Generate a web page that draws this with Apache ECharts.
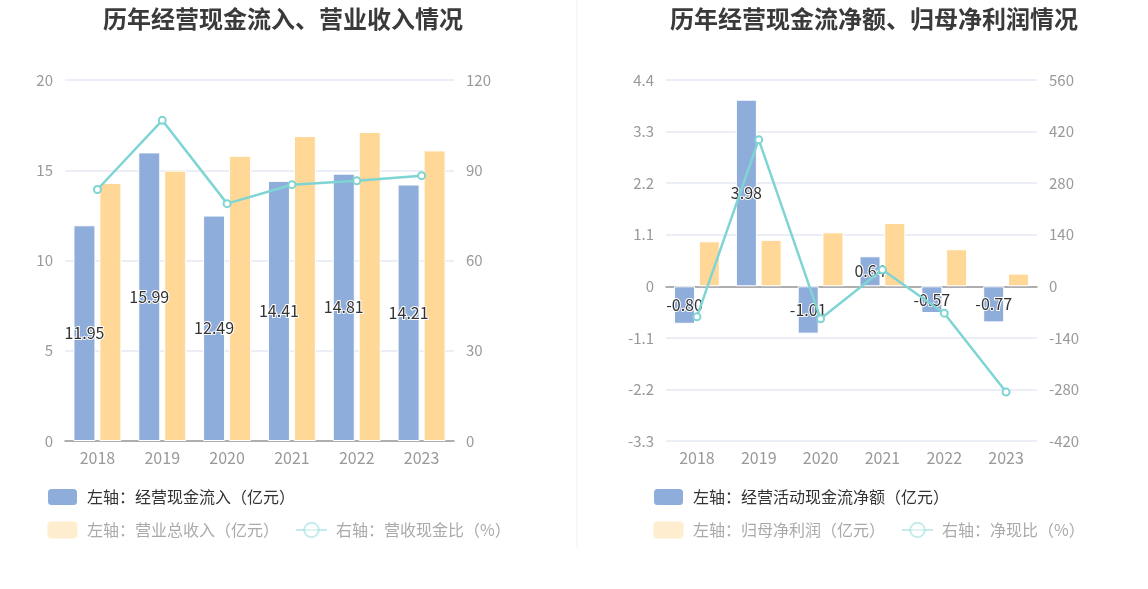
<!DOCTYPE html>
<html>
<head>
<meta charset="utf-8">
<script src="https://cdn.jsdelivr.net/npm/echarts@6/dist/echarts.min.js"></script>
<style>
  html, body { margin: 0; padding: 0; background: #fff; }
  #main { width: 1148px; height: 589px; }
</style>
</head>
<body>
<div id="main"></div>
<script>
// 年份
let years = ['2018', '2019', '2020', '2021', '2022', '2023'];

// 左图：经营现金流入、营业总收入（亿元），营收现金比（%）
let cashIn = [11.95, 15.99, 12.49, 14.41, 14.81, 14.21];
let revenue = [14.3, 14.98, 15.8, 16.9, 17.12, 16.1];
let cashRatio = [83.6, 106.6, 78.9, 85.2, 86.5, 88.2];

// 右图：经营活动现金流净额、归母净利润（亿元），净现比（%）
let netCash = [-0.80, 3.98, -1.01, 0.64, -0.57, -0.77];
let netProfit = [0.96, 0.99, 1.15, 1.35, 0.79, 0.27];
let netRatio = [-83, 398, -88, 45, -73, -287];

let BLUE = '#8eaddb', ORANGE = '#ffd897', CYAN = '#7fd4d4';
let FONT = 'Noto Sans CJK SC';

let chart = echarts.init(document.getElementById('main'));

function yAxisOf(gridIndex, min, max, interval, showSplit) {
  return {
    type: 'value', gridIndex: gridIndex, min: min, max: max, interval: interval,
    axisLine: { show: false }, axisTick: { show: false },
    axisLabel: { color: '#999', fontSize: 15, fontFamily: FONT, margin: 12 },
    splitLine: { show: showSplit, lineStyle: { color: '#e6e9f4', width: 1.5 } }
  };
}

function xAxesOf(gridIndex) {
  return [{
    // 轴线和刻度，贴着 0 线
    type: 'category', gridIndex: gridIndex, data: years,
    axisLine: { onZero: true, lineStyle: { color: '#999', width: 1.5 } },
    axisTick: { alignWithLabel: true, length: 5, lineStyle: { color: '#999' } },
    axisLabel: { show: false }
  }, {
    // 年份标签放到底部
    type: 'category', gridIndex: gridIndex, data: years, position: 'bottom',
    axisLine: { show: false, onZero: false }, axisTick: { show: false },
    axisLabel: { color: '#999', fontSize: 16, fontFamily: FONT, margin: 9 }
  }];
}

let barLabel = {
  show: true, position: 'inside', color: '#333', fontSize: 16, fontFamily: FONT,
  textBorderColor: '#fff', textBorderWidth: 2,
  formatter: function (p) { return p.value.toFixed(2); }
};

function legendsOf(left, names) {
  return [{
    left: left, top: 487, padding: 0, itemWidth: 31, itemHeight: 18, icon: 'roundRect',
    textStyle: { fontSize: 16, fontFamily: FONT, color: '#333', padding: [0, 0, 0, 4] },
    data: [{ name: names[0] }]
  }, {
    left: left, top: 520, padding: 0, itemWidth: 31, itemHeight: 18, itemGap: 16,
    textStyle: { fontSize: 16, fontFamily: FONT, color: '#aaa', padding: [0, 0, 0, 4] },
    data: [
      { name: names[1], icon: 'roundRect', itemStyle: { opacity: 0.45 } },
      { name: names[2], itemStyle: { opacity: 0.45 }, lineStyle: { opacity: 0.45 } }
    ]
  }];
}

let leftNames = ['左轴：经营现金流入（亿元）', '左轴：营业总收入（亿元）', '右轴：营收现金比（%）'];
let rightNames = ['左轴：经营活动现金流净额（亿元）', '左轴：归母净利润（亿元）', '右轴：净现比（%）'];

let option = {
  animation: false,
  title: [{
    text: '历年经营现金流入、营业收入情况', left: 278, top: 2, textAlign: 'center',
    textStyle: { fontSize: 24, fontWeight: 'bold', color: '#3a3a3a', fontFamily: FONT }
  }, {
    text: '历年经营现金流净额、归母净利润情况', left: 869, top: 2, textAlign: 'center',
    textStyle: { fontSize: 24, fontWeight: 'bold', color: '#3a3a3a', fontFamily: FONT }
  }],
  grid: [
    { left: 65, top: 80, width: 389, height: 361 },
    { left: 666, top: 80, width: 371, height: 361 }
  ],
  xAxis: xAxesOf(0).concat(xAxesOf(1)),
  yAxis: [
    yAxisOf(0, 0, 20, 5, true),
    yAxisOf(0, 0, 120, 30, false),
    yAxisOf(1, -3.3, 4.4, 1.1, true),
    yAxisOf(1, -420, 560, 140, false)
  ],
  legend: legendsOf(46, leftNames).concat(legendsOf(652, rightNames)),
  graphic: [{
    type: 'line', shape: { x1: 577, y1: 0, x2: 577, y2: 548 },
    style: { stroke: '#f0f0f0', lineWidth: 1 }
  }],
  series: [{
    name: leftNames[0], type: 'bar', xAxisIndex: 0, yAxisIndex: 0, data: cashIn,
    barWidth: 22, barGap: '18%',
    itemStyle: { color: BLUE, borderColor: '#fff', borderWidth: 1 }, label: barLabel
  }, {
    name: leftNames[1], type: 'bar', xAxisIndex: 0, yAxisIndex: 0, data: revenue,
    barWidth: 22, itemStyle: { color: ORANGE, borderColor: '#fff', borderWidth: 1 }
  }, {
    name: leftNames[2], type: 'line', xAxisIndex: 0, yAxisIndex: 1, data: cashRatio,
    symbol: 'emptyCircle', symbolSize: 7,
    lineStyle: { color: CYAN, width: 2.5 }, itemStyle: { color: CYAN, borderWidth: 2 }
  }, {
    name: rightNames[0], type: 'bar', xAxisIndex: 2, yAxisIndex: 2, data: netCash,
    barWidth: 21, barGap: '18%',
    itemStyle: { color: BLUE, borderColor: '#fff', borderWidth: 1 }, label: barLabel
  }, {
    name: rightNames[1], type: 'bar', xAxisIndex: 2, yAxisIndex: 2, data: netProfit,
    barWidth: 21, itemStyle: { color: ORANGE, borderColor: '#fff', borderWidth: 1 }
  }, {
    name: rightNames[2], type: 'line', xAxisIndex: 2, yAxisIndex: 3, data: netRatio,
    symbol: 'emptyCircle', symbolSize: 7,
    lineStyle: { color: CYAN, width: 2.5 }, itemStyle: { color: CYAN, borderWidth: 2 }
  }]
};

chart.setOption(option);
</script>
</body>
</html>
